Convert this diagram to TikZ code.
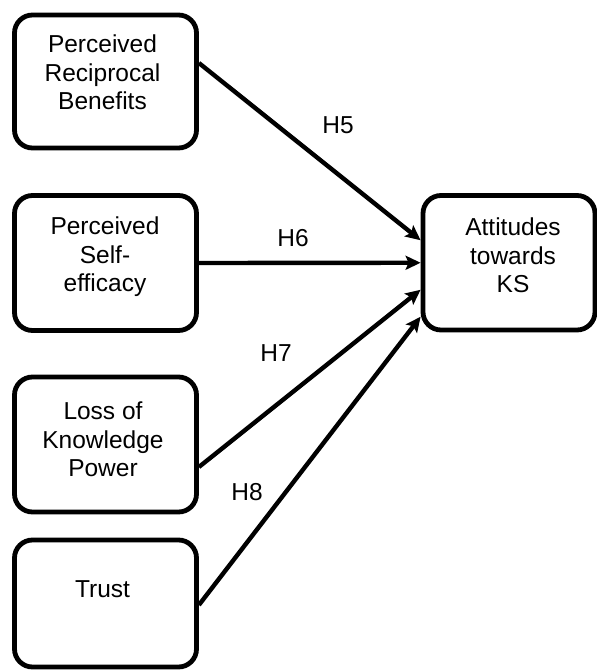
\documentclass[tikz,border=0pt]{standalone}
\usepackage{fontspec}
\setmainfont{Liberation Sans}
\usetikzlibrary{arrows.meta,calc}
\begin{document}
\begin{tikzpicture}[x=1pt,y=1pt,
  box/.style={draw=black, line width=4.8pt, rounded corners=18pt, fill=white, inner sep=0pt},
  txt/.style={align=center, inner sep=0pt, anchor=north, font=\fontsize{24.5}{28.5}\selectfont},
  hlab/.style={inner sep=0pt, font=\fontsize{24.5}{28.5}\selectfont},
  arr/.style={line width=4.4pt, -{Stealth[length=15pt,width=14pt,inset=3pt]}}
]
\useasboundingbox (0,0) rectangle (597,-670);
\node[box, minimum width=182pt, minimum height=133pt] (b1) at (105.5,-81.5) {};
\node[box, minimum width=182pt, minimum height=135pt] (b2) at (105.5,-263) {};
\node[box, minimum width=182pt, minimum height=135pt] (b3) at (105.5,-444.5) {};
\node[box, minimum width=182pt, minimum height=127pt] (b4) at (105.5,-603.5) {};
\node[box, minimum width=172pt, minimum height=134.5pt] (b5) at (509,-262.75) {};

\node[txt] (t1) at (102.5,-35) {Perceived\\Reciprocal\\Benefits};
\node[txt] (t2) at (105,-217) {Perceived\\Self-\\efficacy};
\node[txt] (t3) at (103,-402) {Loss of\\Knowledge\\Power};
\node[txt] (t4) at (102.5,-580) {Trust};
\node[txt] (t5) at (513,-218) {Attitudes\\towards\\KS};

\draw[arr] ([yshift=18.5pt]b1.east) -- ([yshift=22.5pt]b5.west);
\draw[arr] (b2.east) -- (b5.west);
\draw[arr] ([yshift=-22.5pt]b3.east) -- ([yshift=-27pt]b5.west);
\draw[arr] ([yshift=-1.5pt]b4.east) -- ([yshift=-54pt]b5.west);

\node[hlab] (h5) at (338,-125) {H5};
\node[hlab] (h6) at (293,-238) {H6};
\node[hlab] (h7) at (276,-353) {H7};
\node[hlab] (h8) at (247,-492) {H8};
\end{tikzpicture}
\end{document}
